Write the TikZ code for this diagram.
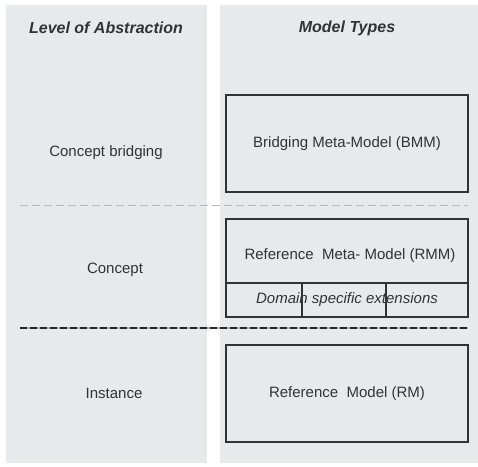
\documentclass[tikz,border=0pt]{standalone}
\usepackage{fontspec}
\setmainfont{Liberation Sans}
\usetikzlibrary{calc}
\definecolor{panel}{HTML}{E8E9EB}
\definecolor{ink}{HTML}{333333}
\begin{document}
\begin{tikzpicture}[x=1pt,y=-1pt,font=\fontsize{15}{18}\selectfont,text=ink,
    mbox/.style={draw=ink,line width=1.8pt,minimum width=242pt,inner sep=0pt,outer sep=0pt},
    thin dash/.style={draw=gray!55,line width=1pt,dash pattern=on 8pt off 4pt},
    thick dash/.style={draw=black!85,line width=2pt,dash pattern=on 7pt off 3pt}]
    \useasboundingbox (0,0) rectangle (478,466);
    \fill[panel] (6,5) rectangle (207,463);
    \fill[panel] (220,5) rectangle (478,463);
    % headers
    \node[font=\fontsize{16}{19}\selectfont\bfseries\itshape](levels) at (106,28) {Level of Abstraction};
    \node[font=\fontsize{16}{19}\selectfont\bfseries\itshape](types) at (347,28) {Model Types};
    % levels
    \node(bridging) at (106,153) {Concept bridging};
    \node(concept) at (115,270) {Concept};
    \node(instance) at (114,393) {Instance};
    % models
    \node[mbox,minimum height=97pt](bmm) at (347,143.5) {Bridging Meta-Model (BMM)};
    \node[mbox,minimum height=64pt](rmm) at (347,251) {};
    \node(rmmtext) at (350,256) {Reference \ Meta- Model (RMM)};
    \node[mbox,minimum height=34pt,anchor=north](dse) at (rmm.south) {\itshape Domain specific extensions};
    \node[mbox,minimum height=97pt](rm) at (347,393.5) {Reference \ Model (RM)};
    \coordinate(d1) at (302,283);
    \coordinate(d2) at (386,283);
    \draw[ink,line width=1.8pt] (d1) -- (d1 |- dse.south);
    \draw[ink,line width=1.8pt] (d2) -- (d2 |- dse.south);
    % separators
    \coordinate(s1l) at (20,205);
    \coordinate(s1r) at (468,205);
    \coordinate(s2l) at (20,328);
    \coordinate(s2r) at (468,328);
    \path[thin dash] (s1l) edge (s1r);
    \path[draw=gray!60,line width=2pt] (s2l) edge (s2r);
    \path[thick dash] (s2l) edge (s2r);
\end{tikzpicture}
\end{document}
